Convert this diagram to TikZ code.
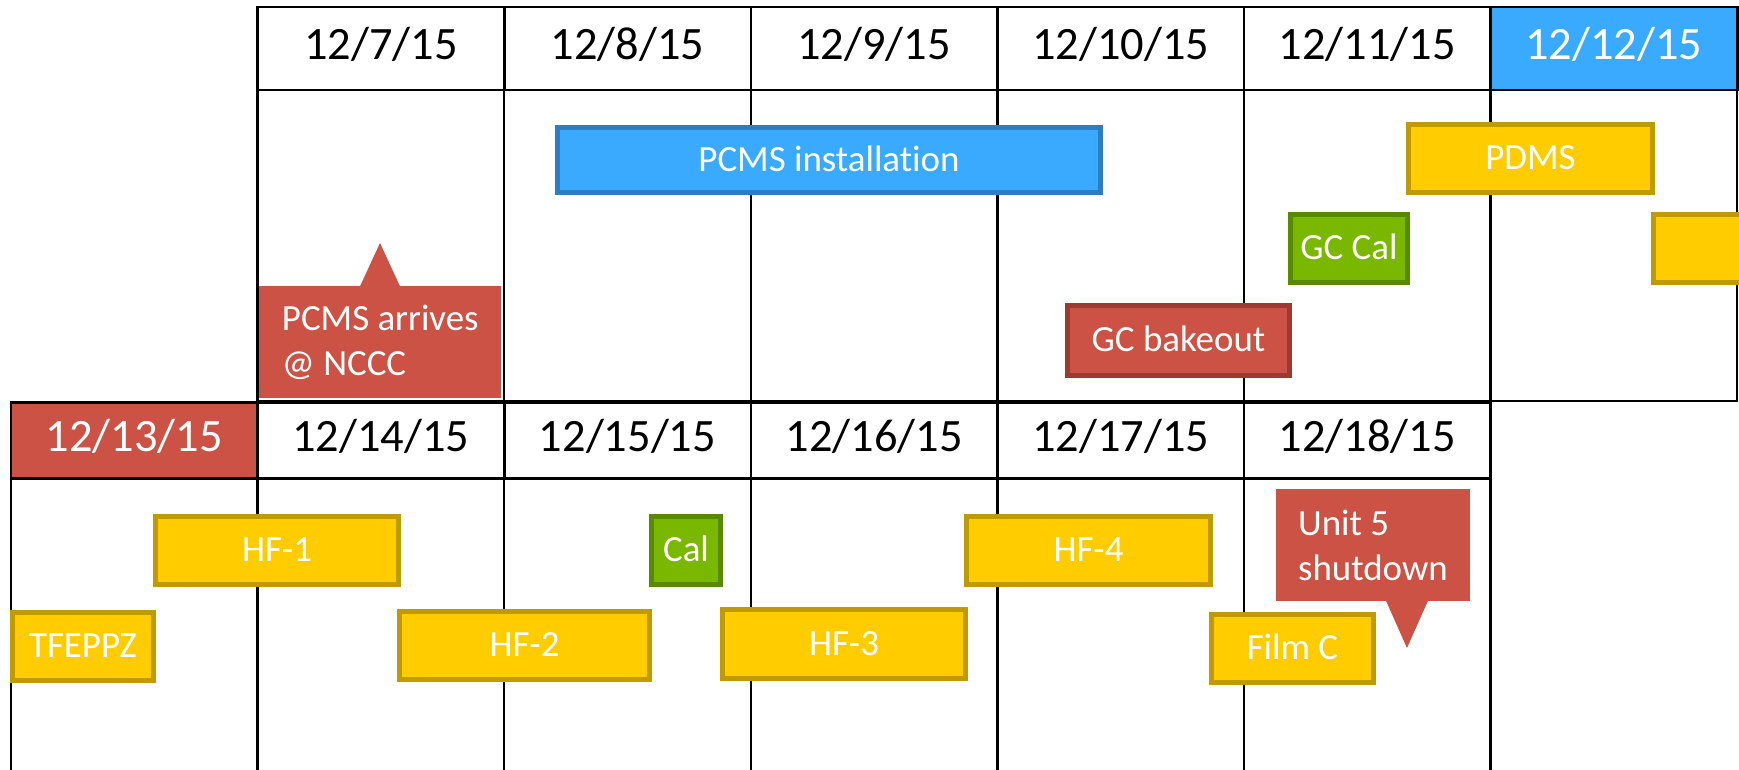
\documentclass[tikz,border=0pt]{standalone}
\usepackage{fontspec}
\setmainfont{Carlito}[Ligatures=NoCommon]
\usepackage{tikz}
\usetikzlibrary{calc}

\definecolor{planblue}{RGB}{58,170,255}
\definecolor{planbluedark}{RGB}{44,126,194}
\definecolor{planred}{RGB}{203,82,68}
\definecolor{planreddark}{RGB}{156,58,50}
\definecolor{planyellow}{RGB}{255,204,0}
\definecolor{planyellowdark}{RGB}{191,154,0}
\definecolor{plangreen}{RGB}{122,184,0}
\definecolor{plangreendark}{RGB}{88,138,0}

\begin{document}
\begin{tikzpicture}
	[%
	x=0.01cm, y=-0.01cm,%
	gridline/.style   ={draw=black,	line width=0.7pt},%
	daycell/.style    ={rectangle,	draw=black,	line width=0.7pt,	inner sep=0pt,	minimum width=2.466cm,	text height=0.632em,	text depth=0pt,	font=\fontsize{13.2}{16}\selectfont},%
	task/.style       ={rectangle,	line width=1.35pt,	inner sep=0pt,	minimum height={0.73cm-1.35pt},	text=white,	text height=0.644em,	text depth=0pt,	font=\fontsize{10.5}{12.8}\selectfont},%
	barw/.style       ={minimum width={#1*0.01cm-1.35pt}},%
	yellowtask/.style ={task,	fill=planyellow,	draw=planyellowdark},%
	greentask/.style  ={task,	fill=plangreen,		draw=plangreendark},%
	bluetask/.style   ={task,	fill=planblue,		draw=planbluedark},%
	redtask/.style    ={task,	fill=planred,		draw=planreddark},%
	note/.style       ={rectangle,	fill=planred,	inner sep=0pt,	minimum height=1.12cm,	align=left,	text=white,	font=\fontsize{10.5}{12.8}\selectfont},%
	]

	\newcommand{\colw}{246.6}
	\newcommand{\gx}{11}

	\clip (0,0) rectangle (1739,769);

	% first week
	\draw [gridline] ({\gx+\colw},90) rectangle ({\gx+7*\colw},401);
	\foreach \i in {2,...,6}%
		\draw [gridline] ({\gx+\i*\colw},90) -- ({\gx+\i*\colw},401);
	\foreach \d [count=\i] in {7,...,11}%
		\node (day\d) at ({\gx+(\i+0.5)*\colw},48.5) [daycell, minimum height=0.833cm] {12/\d/15};
	\node (day12) at ({\gx+6.5*\colw},48.5) [daycell, minimum height=0.833cm, fill=planblue, text=white] {12/12/15};

	% second week
	\foreach \i in {0,...,6}%
		\draw [gridline] ({\gx+\i*\colw},479) -- ({\gx+\i*\colw},790);
	\node (day13) at ({\gx+0.5*\colw},440.3) [daycell, minimum height=0.76cm, fill=planred, text=white] {12/13/15};
	\foreach \d [count=\i] in {14,...,18}%
		\node (day\d) at ({\gx+(\i+0.5)*\colw},440.3) [daycell, minimum height=0.76cm] {12/\d/15};

	% tasks
	\node (install)  at (829,160)      [bluetask, barw=548, minimum height={0.70cm-1.35pt}] {PCMS installation};
	\node (pdms)     at (1530.5,158.5) [yellowtask, barw=249] {PDMS};
	\node (gccal)    at (1349,248.5)   [greentask, barw=122] {GC Cal};
	\node (pdmsnext) at (1720,248.5)   [yellowtask, barw=138] {};
	\node (bakeout)  at (1178.5,340.5) [redtask, barw=227, minimum height={0.75cm-1.35pt}] {GC bakeout};

	\node (hfa)      at (277,550.5)    [yellowtask, barw=248] {HF-1};
	\node (cal)      at (686,550.5)    [greentask, barw=74] {Cal};
	\node (hfd)      at (1088.5,550.5) [yellowtask, barw=249] {HF-4};
	\node (tfeppz)   at (83,646.5)     [yellowtask, barw=146] {TFEPPZ};
	\node (hfb)      at (524.5,645.5)  [yellowtask, barw=255] {HF-2};
	\node (hfc)      at (844,644)      [yellowtask, barw=248] {HF-3};
	\node (filmc)    at (1292.5,648.5) [yellowtask, barw=167] {Film C};

	% notes
	\node (arrive) at (380.25,342) [note, minimum width=2.415cm] {PCMS arrives\\@ NCCC};
	\coordinate (arrivetip) at (380,243);
	\fill [planred, line join=round] ($(arrive.north -| arrivetip)+(-20,1)$) -- (arrivetip) -- ($(arrive.north -| arrivetip)+(20,1)$) -- cycle;

	\node (shutdown) at (1373,545) [note, minimum width=1.94cm] {Unit 5\\shutdown};
	\coordinate (shuttip) at (1407,648);
	\fill [planred, line join=round] ($(shutdown.south -| shuttip)+(-21,-1)$) -- (shuttip) -- ($(shutdown.south -| shuttip)+(21,-1)$) -- cycle;

\end{tikzpicture}
\end{document}
